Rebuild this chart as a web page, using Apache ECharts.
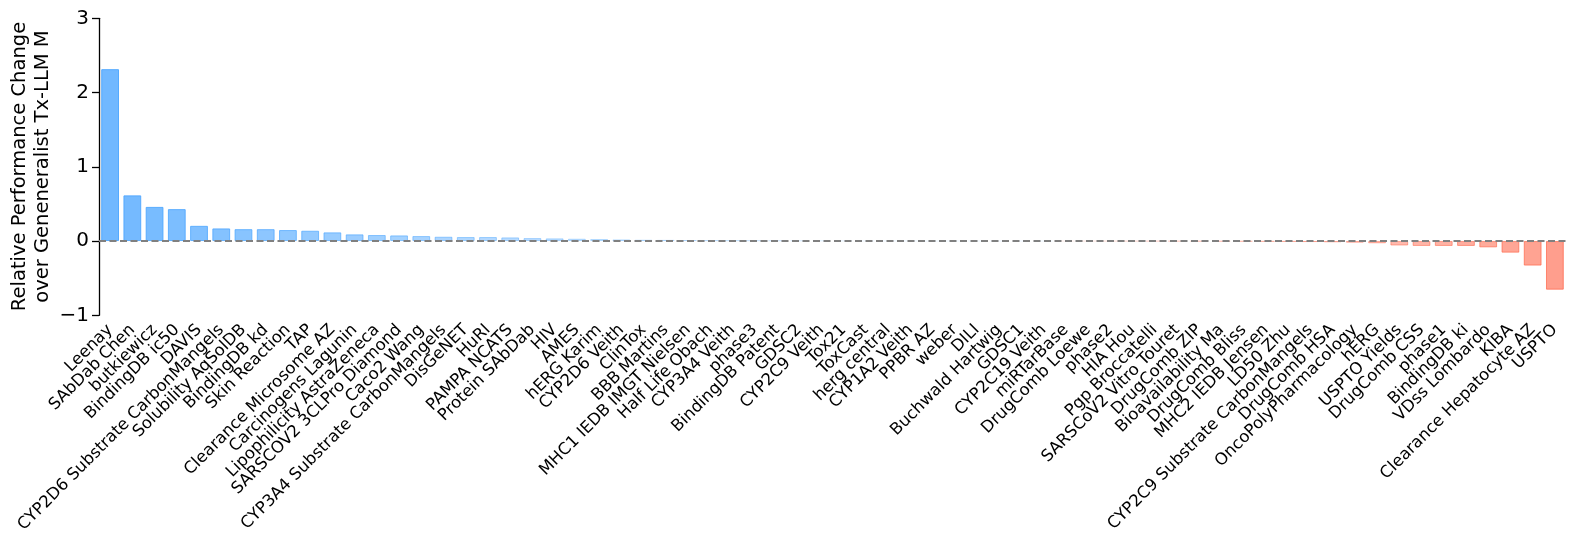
<!DOCTYPE html>
<html>
<head>
<meta charset="utf-8">
<script src="https://cdn.jsdelivr.net/npm/echarts@6/dist/echarts.min.js"></script>
<style>html,body{margin:0;padding:0;background:#fff}#c{width:1577px;height:546px}</style>
</head>
<body>
<div id="c"></div>
<script>
const categories = [
  "Leenay","SAbDab Chen","butkiewicz","BindingDB ic50","DAVIS","CYP2D6 Substrate CarbonMangels",
  "Solubility AqSolDB","BindingDB kd","Skin Reaction","TAP","Clearance Microsome AZ","Carcinogens Lagunin",
  "Lipophilicity AstraZeneca","SARSCOV2 3CLPro Diamond","Caco2 Wang","CYP3A4 Substrate CarbonMangels",
  "DisGeNET","HuRI","PAMPA NCATS","Protein SAbDab","HIV","AMES","hERG Karim","CYP2D6 Veith","ClinTox",
  "BBB Martins","MHC1 IEDB IMGT Nielsen","Half Life Obach","CYP3A4 Veith","phase3","BindingDB Patent",
  "GDSC2","CYP2C9 Veith","Tox21","ToxCast","herg central","CYP1A2 Veith","PPBR AZ","weber","DILI",
  "Buchwald Hartwig","GDSC1","CYP2C19 Veith","miRTarBase","DrugComb Loewe","phase2","HIA Hou",
  "Pgp Broccatelli","SARSCoV2 Vitro Touret","DrugComb ZIP","Bioavailability Ma","DrugComb Bliss",
  "MHC2 IEDB Jensen","LD50 Zhu","CYP2C9 Substrate CarbonMangels","DrugComb HSA","OncoPolyPharmacology",
  "hERG","USPTO Yields","DrugComb CSS","phase1","BindingDB ki","VDss Lombardo","KIBA",
  "Clearance Hepatocyte AZ","USPTO"
];
const values = [
  2.315, 0.615, 0.46, 0.43, 0.205, 0.17,
  0.16, 0.16, 0.148, 0.139, 0.117, 0.09,
  0.081, 0.076, 0.067, 0.058,
  0.054, 0.054, 0.049, 0.04, 0.036, 0.031, 0.027, 0.022, 0.018,
  0.016, 0.014, 0.012, 0.011, 0.01, 0.009,
  0.008, 0.007, 0.006, 0.005, 0.004, 0.004, 0.003, 0.002, 0.002,
  0.001, 0.001, 0.0005, -0.0005, -0.001, -0.001, -0.002,
  -0.002, -0.003, -0.004, -0.005, -0.006,
  -0.008, -0.01, -0.013, -0.017, -0.022,
  -0.03, -0.06, -0.066, -0.066, -0.066, -0.085, -0.156,
  -0.33, -0.655
];
const yTicks = [-1, 0, 1, 2, 3];

const n = values.length;
function barColor(v, i) {
  if (v >= 0) {
    const a = 0.8 * Math.max(0.06, 1 - i / 36);
    return {fill: 'rgba(77,166,255,' + a.toFixed(3) + ')', edge: 'rgba(77,166,255,' + Math.min(1, a * 1.15).toFixed(3) + ')'};
  } else {
    const j = n - 1 - i;
    const a = 0.62 * Math.max(0.06, 1 - j / 24);
    return {fill: 'rgba(255,99,71,' + a.toFixed(3) + ')', edge: 'rgba(255,99,71,' + Math.min(1, a * 1.15).toFixed(3) + ')'};
  }
}
const barData = values.map((v, i) => {
  const c = barColor(v, i);
  return {value: v, itemStyle: {color: c.fill, borderColor: c.edge, borderWidth: 1}};
});

const chart = echarts.init(document.getElementById('c'), null, {renderer: 'canvas'});
const FONT = 'DejaVu Sans';
chart.setOption({
  animation: false,
  textStyle: {fontFamily: FONT},
  grid: {left: 99, right: 11, top: 18.3, bottom: 230.7, containLabel: false},
  xAxis: {
    type: 'category',
    data: categories,
    boundaryGap: true,
    axisLine: {show: false, onZero: false},
    axisTick: {show: false},
    axisLabel: {interval: 0, rotate: 45, fontSize: 16.5, color: '#000', fontFamily: FONT, margin: 12}
  },
  yAxis: {
    type: 'value',
    min: -1, max: 3, interval: 1,
    splitLine: {show: false},
    axisLine: {show: true, lineStyle: {color: '#000', width: 1.3}},
    axisTick: {show: true, length: 7, lineStyle: {color: '#000', width: 1.3}},
    axisLabel: {fontSize: 20, color: '#000', fontFamily: FONT, margin: 10,
      formatter: v => String(v).replace('-', '\u2212')}
  },
  graphic: [{
    type: 'text',
    x: 31, y: 166.5,
    rotation: Math.PI / 2,
    style: {
      text: 'Relative Performance Change\nover Geneneralist Tx-LLM M',
      font: '19.5px "DejaVu Sans"',
      fill: '#000',
      align: 'center',
      verticalAlign: 'middle',
      lineHeight: 23
    }
  }],
  series: [{
    type: 'bar',
    data: barData,
    barCategoryGap: '20%',
    markLine: {
      silent: true,
      symbol: 'none',
      label: {show: false},
      z: 10,
      lineStyle: {color: '#808080', width: 2, type: [7, 3.5]},
      data: [{yAxis: 0}]
    }
  }]
});
</script>
</body>
</html>
